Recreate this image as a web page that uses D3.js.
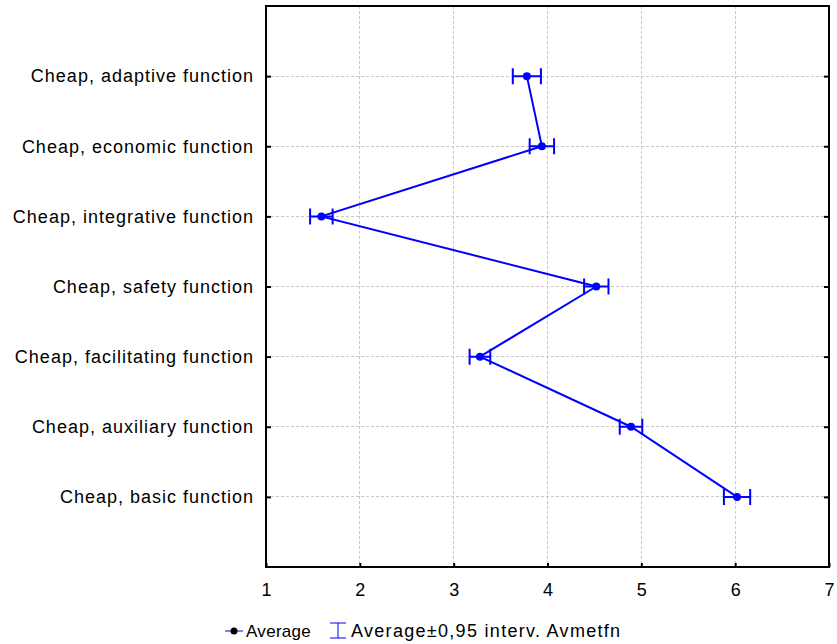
<!DOCTYPE html>
<html>
<head>
<meta charset="utf-8">
<script src="https://cdn.jsdelivr.net/npm/d3@7"></script>
<style>
  html, body { margin: 0; padding: 0; background: #fff; }
  svg { display: block; font-family: "Liberation Sans", Arial, sans-serif; }
</style>
</head>
<body>
<svg id="chart" width="837" height="644"></svg>
<script>
// Categories, top to bottom
const categories = [
  "Cheap, adaptive function",
  "Cheap, economic function",
  "Cheap, integrative function",
  "Cheap, safety function",
  "Cheap, facilitating function",
  "Cheap, auxiliary function",
  "Cheap, basic function"
];
// Mean score per category
const averages = [3.78, 3.94, 1.59, 4.52, 3.28, 4.89, 6.02];
// Half-width of the 0.95 confidence interval
const ciHalf = [0.15, 0.13, 0.12, 0.13, 0.11, 0.12, 0.14];
const xTicks = [1, 2, 3, 4, 5, 6, 7];
const legendLabels = ["Average", "Average\u00b10,95 interv. Avmetfn"];

const svg = d3.select("#chart");
const m = { left: 266, right: 829, top: 6, bottom: 567 };
const blue = "#0000ff";
const fs = 18;
const font = "'Liberation Sans', Arial, sans-serif";

const x = d3.scaleLinear().domain([1, 7]).range([m.left, m.right]);
const y = d3.scalePoint().domain(categories).range([m.top, m.bottom]).padding(1);

const data = categories.map((c, i) => ({ c, v: averages[i], e: ciHalf[i] }));

// grid
const grid = svg.append("g").attr("stroke", "#c8c8c8").attr("stroke-width", 1)
  .attr("stroke-dasharray", "3,2").attr("shape-rendering", "crispEdges");
grid.selectAll("line.v").data(xTicks.slice(1, -1)).join("line")
  .attr("x1", d => x(d)).attr("x2", d => x(d))
  .attr("y1", m.top).attr("y2", m.bottom);
grid.selectAll("line.h").data(categories).join("line")
  .attr("x1", m.left).attr("x2", m.right)
  .attr("y1", d => y(d)).attr("y2", d => y(d));

// frame
svg.append("rect")
  .attr("x", m.left).attr("y", m.top)
  .attr("width", m.right - m.left).attr("height", m.bottom - m.top)
  .attr("fill", "none").attr("stroke", "#000").attr("stroke-width", 2);

// bottom axis
const xAxis = svg.append("g").attr("transform", `translate(0,${m.bottom})`)
  .call(d3.axisBottom(x).tickValues(xTicks).tickFormat(d3.format("d")).tickSizeInner(-4).tickSizeOuter(0).tickPadding(16));
xAxis.select(".domain").remove();
xAxis.selectAll(".tick line").attr("stroke", "#000").attr("stroke-width", 2);
xAxis.selectAll("text").attr("font-size", fs).attr("fill", "#000")
  .attr("font-family", font);

// left axis
const yAxis = svg.append("g").attr("transform", `translate(${m.left},0)`)
  .call(d3.axisLeft(y).tickSizeInner(-5).tickSizeOuter(0).tickPadding(12));
yAxis.select(".domain").remove();
yAxis.selectAll(".tick line").attr("stroke", "#000").attr("stroke-width", 2);
yAxis.selectAll("text").attr("font-size", fs).attr("fill", "#000")
  .attr("font-family", font).style("letter-spacing", "1px");

// right axis ticks
const yAxisR = svg.append("g").attr("transform", `translate(${m.right},0)`)
  .call(d3.axisRight(y).tickSizeInner(-5).tickSizeOuter(0).tickFormat(""));
yAxisR.select(".domain").remove();
yAxisR.selectAll(".tick line").attr("stroke", "#000").attr("stroke-width", 2);

// connecting line
svg.append("path").datum(data)
  .attr("fill", "none").attr("stroke", blue).attr("stroke-width", 2)
  .attr("d", d3.line().x(d => x(d.v)).y(d => y(d.c)));

// confidence interval whiskers
const cap = 8;
const eb = svg.append("g").attr("stroke", blue).attr("stroke-width", 2);
eb.selectAll("path").data(data).join("path").attr("fill", "none")
  .attr("d", d => {
    const yy = y(d.c), a = x(d.v - d.e), b = x(d.v + d.e);
    return `M${a},${yy}H${b}M${a},${yy - cap}V${yy + cap}M${b},${yy - cap}V${yy + cap}`;
  });

// mean markers
svg.append("g").selectAll("circle").data(data).join("circle")
  .attr("cx", d => x(d.v)).attr("cy", d => y(d.c)).attr("r", 4)
  .attr("fill", blue);

// legend
const lg = svg.append("g").attr("transform", "translate(0,631)");
lg.append("line").attr("x1", 225).attr("x2", 243).attr("y1", 0).attr("y2", 0)
  .attr("stroke", blue).attr("stroke-width", 1);
lg.append("circle").attr("cx", 234).attr("cy", 0).attr("r", 3.5).attr("fill", "#000");
lg.append("text").attr("x", 246).attr("y", 6).attr("font-size", 17)
  .style("letter-spacing", "0.3px").text(legendLabels[0]);
lg.append("path").attr("fill", "none").attr("stroke", blue).attr("stroke-width", 1)
  .attr("d", "M330,-8H346M338,-8V7M330,7H346");
lg.append("text").attr("x", 351).attr("y", 6).attr("font-size", fs)
  .style("letter-spacing", "1.3px").text(legendLabels[1]);
</script>
</body>
</html>
